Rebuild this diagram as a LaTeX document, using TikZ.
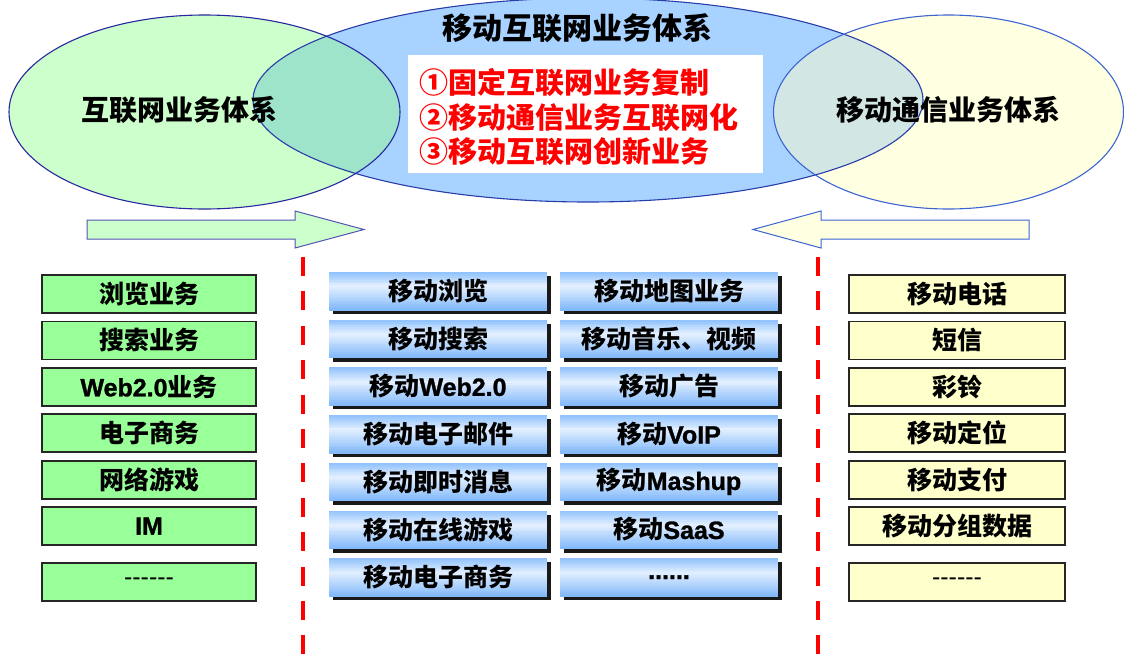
\documentclass[tikz,border=0pt]{standalone}
\usepackage{fontspec}
\setmainfont{Noto Sans CJK SC}
\newfontfamily\lat{Liberation Sans}[BoldFont={Liberation Sans Bold}, BoldFeatures={FakeBold=1.2}]
\usetikzlibrary{shadows,calc}
\definecolor{gfill}{RGB}{204,255,204}
\definecolor{bfill}{RGB}{168,210,255}
\definecolor{yfill}{RGB}{255,255,226}
\definecolor{gbover}{RGB}{158,228,202}
\definecolor{ybover}{RGB}{210,230,228}
\definecolor{gline}{RGB}{40,40,160}
\definecolor{bline}{RGB}{40,60,170}
\definecolor{yline}{RGB}{60,100,210}
\definecolor{boxgreen}{RGB}{153,255,153}
\definecolor{boxyellow}{RGB}{255,255,204}
\definecolor{mtop}{RGB}{140,192,252}
\definecolor{mmid}{RGB}{228,240,255}
\definecolor{mbot}{RGB}{128,184,250}
\definecolor{redline}{RGB}{255,0,0}
\newcommand{\lb}[1]{{\lat\bfseries #1}}
\tikzset{
  sidebox/.style={draw=black!85, line width=1.8pt, minimum width=#1, minimum height=38pt, inner sep=0pt,
    font=\fontsize{25}{28}\selectfont\bfseries},
  gbox/.style={sidebox=214pt, fill=boxgreen},
  ybox/.style={sidebox=216pt, fill=boxyellow},
  mbox/.style={minimum width=218pt, minimum height=38pt, inner sep=0pt, fill=mmid,
    drop shadow={shadow xshift=4pt, shadow yshift=-4pt, fill=black, opacity=.9},
    font=\fontsize{25}{28}\selectfont\bfseries,
    path picture={
      \foreach \i in {0,...,19}{
        \pgfmathsetmacro\f{(\i+0.5)/20}
        \pgfmathsetmacro\p{\f<0.38 ? 100*\f/0.38 : 100*(1-\f)/0.62}
        \ifnum\i<8 \def\endc{mtop}\else\def\endc{mbot}\fi
        \fill[mmid!\p!\endc]
          ($(path picture bounding box.north west)!{\i/20}!(path picture bounding box.south west)$)
          rectangle
          ($(path picture bounding box.north east)!{(\i+1.4)/20}!(path picture bounding box.south east)$);
      }}},
  bigtxt/.style={font=\fontsize{28}{32}\selectfont\bfseries, inner sep=0pt},
  redtxt/.style={font=\fontsize{29}{32}\selectfont\bfseries, text=redline, inner sep=0pt, anchor=west},
  divider/.style={draw=redline, line width=4.5pt, dash pattern=on 19pt off 15.4pt}
}
\begin{document}
\begin{tikzpicture}[x=1pt,y=-1pt]
\useasboundingbox (0,0) rectangle (1124,654);
% ellipses
\fill[bfill] (588,100) ellipse [x radius=335, y radius=102];
\fill[gfill] (204.5,112) ellipse [x radius=195.5, y radius=97];
\fill[yfill] (948.5,112) ellipse [x radius=175, y radius=97];
\begin{scope}
  \clip (588,100) ellipse [x radius=335, y radius=102];
  \fill[gbover] (204.5,112) ellipse [x radius=195.5, y radius=97];
  \fill[ybover] (948.5,112) ellipse [x radius=175, y radius=97];
\end{scope}
\draw[bline, line width=1.1pt] (588,100) ellipse [x radius=335, y radius=102];
\draw[gline, line width=1.1pt] (204.5,112) ellipse [x radius=195.5, y radius=97];
\draw[yline, line width=1.1pt] (948.5,112) ellipse [x radius=175, y radius=97];
% texts in ellipses
\node[bigtxt] (inet) at (179,110) {互联网业务体系};
\node[bigtxt] (mob) at (948,110) {移动通信业务体系};
\node[bigtxt, font=\fontsize{30}{34}\selectfont\bfseries] (title) at (577,28) {移动互联网业务体系};
\node[fill=white, minimum width=355pt, minimum height=118pt, inner sep=0pt] (wbox) at (585.5,114) {};
\node[redtxt] (r1) at (419,82) {①固定互联网业务复制};
\node[redtxt] (r2) at (419,117.5) {②移动通信业务互联网化};
\node[redtxt] (r3) at (419,152) {③移动互联网创新业务};
% arrows
\draw[fill=gfill, draw=gline!80, line width=1pt] (87,220) -- (295,220) -- (295,211) -- (364,229.5) -- (295,248) -- (295,239) -- (87,239) -- cycle;
\draw[fill=yfill, draw=yline, line width=1pt] (1029,220) -- (821,220) -- (821,211) -- (753,229.5) -- (821,248) -- (821,239) -- (1029,239) -- cycle;
% dividers
\coordinate (d1a) at (303,257); \coordinate (d1b) at (303,654);
\coordinate (d2a) at (818,257); \coordinate (d2b) at (818,654);
\draw[divider] (d1a) -- (d1b);
\draw[divider] (d2a) -- (d2b);
% green column
\node[gbox] (g1) at (149,294) {浏览业务};
\node[gbox] (g2) at (149,340.4) {搜索业务};
\node[gbox] (g3) at (149,386.8) {\lb{Web2.0}业务};
\node[gbox] (g4) at (149,433.2) {电子商务};
\node[gbox] (g5) at (149,479.6) {网络游戏};
\node[gbox] (g6) at (149,526) {\lb{IM}};
\node[gbox] (g7) at (149,582) {\lat\mdseries ------};
% yellow column
\node[ybox] (y1) at (957,294) {移动电话};
\node[ybox] (y2) at (957,340.4) {短信};
\node[ybox] (y3) at (957,386.8) {彩铃};
\node[ybox] (y4) at (957,433.2) {移动定位};
\node[ybox] (y5) at (957,479.6) {移动支付};
\node[ybox] (y6) at (957,526) {移动分组数据};
\node[ybox] (y7) at (957,582) {\lat\mdseries ------};
% middle columns
\node[mbox] (a1) at (438,291) {移动浏览};
\node[mbox] (a2) at (438,338.7) {移动搜索};
\node[mbox] (a3) at (438,386.4) {移动\lb{Web2.0}};
\node[mbox] (a4) at (438,434.1) {移动电子邮件};
\node[mbox] (a5) at (438,481.8) {移动即时消息};
\node[mbox] (a6) at (438,529.5) {移动在线游戏};
\node[mbox] (a7) at (438,577.2) {移动电子商务};
\node[mbox] (b1) at (669,291) {移动地图业务};
\node[mbox] (b2) at (669,338.7) {移动音乐、视频};
\node[mbox] (b3) at (669,386.4) {移动广告};
\node[mbox] (b4) at (669,434.1) {移动\lb{VoIP}};
\node[mbox] (b5) at (669,481.8) {移动\lb{Mashup}};
\node[mbox] (b6) at (669,529.5) {移动\lb{SaaS}};
\node[mbox] (b7) at (669,577.2) {\lb{......}};
\end{tikzpicture}
\end{document}
